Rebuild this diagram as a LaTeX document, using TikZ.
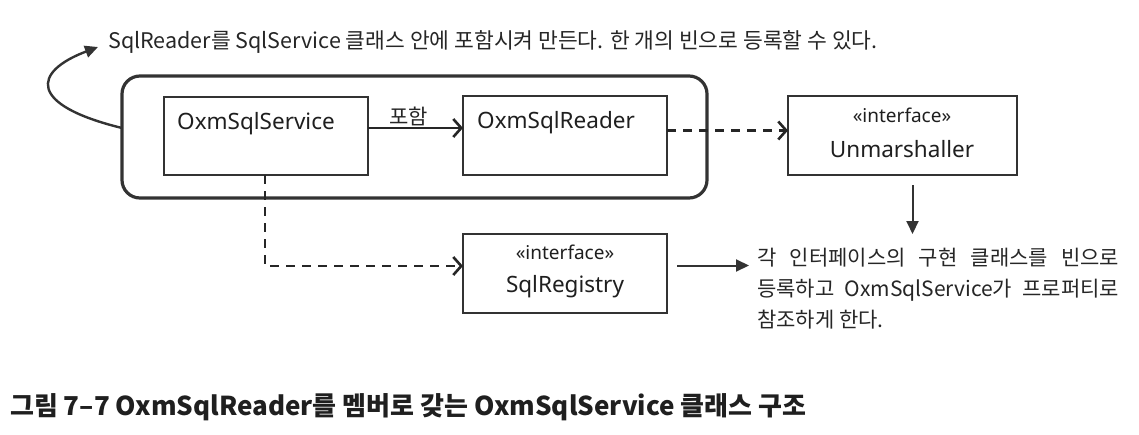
\documentclass[tikz,border=0pt]{standalone}
\usepackage{fontspec}
\setmainfont{Noto Sans CJK KR}
\newfontfamily\latinsans{Noto Sans}
\usetikzlibrary{arrows.meta,calc}

\begin{document}
\begin{tikzpicture}[x=1pt,y=-1pt,
  group/.style={draw=black!80, line width=3.2pt, rounded corners=18pt,
    minimum width=585pt, minimum height=122pt, inner sep=0, outer sep=0},
  box/.style={draw=black!80, line width=1.8pt, minimum width=204pt,
    minimum height=79pt, inner sep=0, outer sep=0},
  classname/.style={font=\latinsans\fontsize{22.5}{27}\selectfont, inner sep=0, text=black!88},
  stereo/.style={font=\latinsans\fontsize{19}{23}\selectfont, inner sep=0, text=black!88},
  note/.style={font=\fontsize{21.5}{26}\selectfont, inner sep=0, text=black!85},
  contain/.style={draw=black!85, line width=2.6pt,
    -{Straight Barb[length=8pt,width=18pt,line width=2.6pt]}},
  dep/.style={draw=black!85, line width=2.6pt, dash pattern=on 9pt off 7pt,
    -{Straight Barb[length=8pt,width=18pt,line width=2.6pt]}},
  pointer/.style={draw=black!80, line width=2pt,
    -{Triangle[length=13pt,width=12pt]}},
]
\useasboundingbox[fill=white] (0,0) rectangle (1139,434);

% package boundary around the service and its reader
\node[group] (grp) at (414.5,137) {};

% classes
\node[box, minimum height=78pt] (svc) at (266,136) {};
\node[classname, anchor=west] (svctext) at (177,124) {OxmSqlService};

\node[box] (rdr) at (565,135.5) {};
\node[classname, anchor=west] (rdrtext) at (477,123) {OxmSqlReader};

\node[box, minimum width=229pt] (unm) at (902.5,135.5) {};
\node[stereo] (unmst) at (902,115) {«interface»};
\node[classname] (unmtext) at (902,149) {Unmarshaller};

\node[box] (reg) at (565,273.5) {};
\node[stereo] (regst) at (565,252) {«interface»};
\node[classname] (regtext) at (565,287) {SqlRegistry};

% notes
\node[note, anchor=west] (note) at (108,42)
  {SqlReader를 SqlService 클래스 안에 포함시켜 만든다. 한 개의 빈으로 등록할 수 있다.};
\node[note, font=\fontsize{21}{31}\selectfont, text width=362pt, align=justify, anchor=north west] (desc) at (757,248)
  {각 인터페이스의 구현 클래스를 빈으로\linebreak 등록하고 OxmSqlService가 프로퍼티로\linebreak 참조하게 한다.};

% caption
\node[inner sep=0, anchor=west, text=black!88, font=\bfseries\fontsize{26}{31}\selectfont] (caption) at (10,407)
  {그림 7–7 OxmSqlReader를 멤버로 갖는 OxmSqlService 클래스 구조};

% connectors
\draw[contain] ([yshift=8pt]svc.east) -- ([yshift=8pt]svc.east -| rdr.west)
  node[pos=0.43, above=1pt, inner sep=0, font=\fontsize{21}{25}\selectfont, text=black!85] (incl) {포함};
\draw[dep] ([xshift=0pt,yshift=5pt]rdr.east) -- ([yshift=5pt]rdr.east -| unm.west);
\draw[dep] ([xshift=-1pt]svc.south) |- ([yshift=7.5pt]reg.west);
\draw[pointer, shorten >=14pt] ([xshift=10pt,yshift=-10pt]unm.south) -- ([xshift=10pt]unm.south |- desc.north);
\draw[pointer, shorten >=8pt] ([xshift=10pt,yshift=8pt]reg.east) -- ([yshift=8pt]reg.east -| desc.west);
\draw[pointer, line width=2.4pt] ([yshift=9pt]grp.west) .. controls (28,105) and (32,72) .. ($(note.west)+(-10,5)$);
\end{tikzpicture}
\end{document}
